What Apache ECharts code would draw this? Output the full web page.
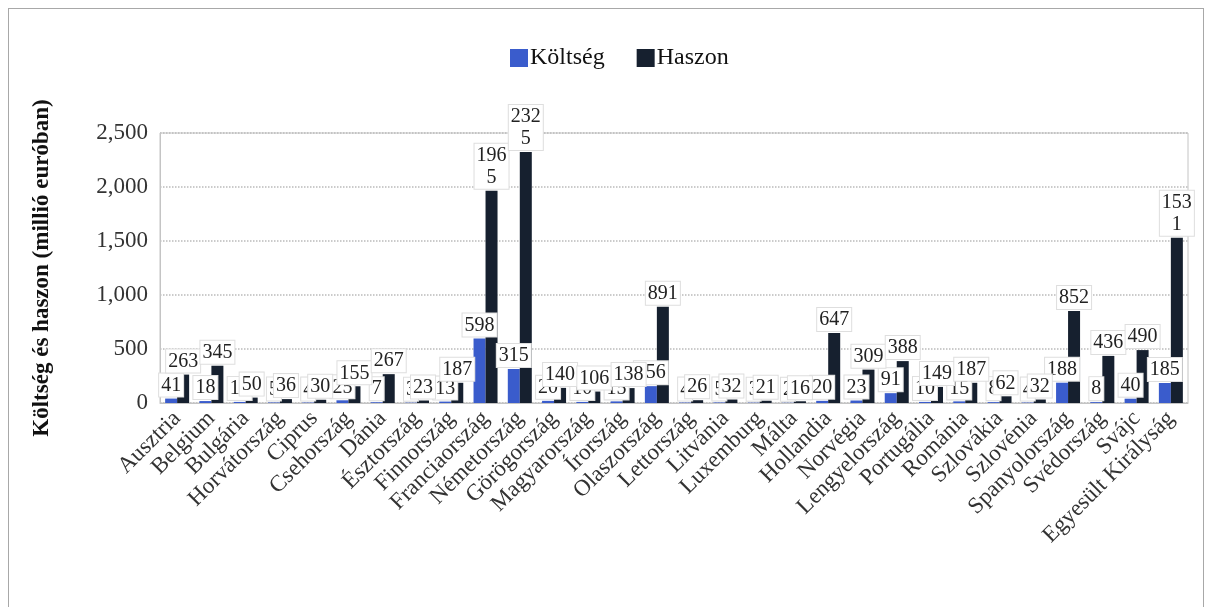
<!DOCTYPE html>
<html>
<head>
<meta charset="utf-8">
<script src="https://cdn.jsdelivr.net/npm/echarts@6/dist/echarts.min.js"></script>
<style>
html,body{margin:0;padding:0;background:#fff;}
#frame{position:absolute;left:8px;top:8px;width:1196px;height:640px;border:1px solid #a8a8a8;box-sizing:border-box;}
#chart{position:absolute;left:0;top:0;width:1213px;height:607px;}
</style>
</head>
<body>
<div id="frame"></div>
<div id="chart"></div>
<script>
const categories = ["Ausztria","Belgium","Bulgária","Horvátország","Ciprus","Csehország","Dánia","Észtország","Finnország","Franciaország","Németország","Görögország","Magyarország","Írország","Olaszország","Lettország","Litvánia","Luxemburg","Málta","Hollandia","Norvégia","Lengyelország","Portugália","Románia","Szlovákia","Szlovénia","Spanyolország","Svédország","Svájc","Egyesült Királyság"];
const koltseg = [41,18,10,5,4,25,7,3,13,598,315,20,10,15,156,4,5,3,2,20,23,91,10,15,8,4,188,8,40,185];
const haszon = [263,345,50,36,30,155,267,23,187,1965,2325,140,106,138,891,26,32,21,16,647,309,388,149,187,62,32,852,436,490,1531];
const yTicks = [0,500,1000,1500,2000,2500];

const serif = '"Liberation Serif","DejaVu Serif",serif';
function fmt(p){
  const s = String(p.value);
  return s.length > 3 ? s.slice(0,3) + '\n' + s.slice(3) : s;
}
const labelStyle = {
  show: true, position: 'top', formatter: fmt,
  fontFamily: serif, fontSize: 20, color: '#222', lineHeight: 22,
  distance: 2,
  backgroundColor: '#ffffff', borderColor: '#dedede', borderWidth: 1,
  padding: [1, 2, 0, 2]
};
const chart = echarts.init(document.getElementById('chart'));
chart.setOption({
  animation: false,
  legend: {
    top: 41, left: 505,
    itemWidth: 18, itemHeight: 18, itemGap: 32,
    icon: 'rect',
    textStyle: {fontFamily: serif, fontSize: 24, color: '#111', padding: [0,0,0,-3]},
    data: ['Költség','Haszon']
  },
  grid: {left: 160, right: 25, top: 133, bottom: 204, show: true, borderColor: '#c4c4c4', borderWidth: 1},
  xAxis: {
    type: 'category', data: categories,
    axisTick: {show: false},
    axisLine: {lineStyle: {color: '#c4c4c4'}},
    axisLabel: {rotate: 45, interval: 0, margin: 12, fontFamily: serif, fontSize: 23, color: '#333'}
  },
  yAxis: {
    type: 'value', min: 0, max: 2500, interval: 500,
    name: 'Költség és haszon (millió euróban)',
    nameLocation: 'middle', nameGap: 106,
    nameTextStyle: {fontFamily: serif, fontSize: 23, fontWeight: 'bold', color: '#111'},
    axisLine: {show: true, lineStyle: {color: '#c4c4c4'}},
    axisTick: {show: false},
    splitLine: {lineStyle: {type: 'dotted', color: '#bbbbbb', width: 1.5}},
    axisLabel: {margin: 12, fontFamily: serif, fontSize: 23, color: '#333',
      formatter: v => yTicks.includes(v) ? v.toLocaleString('en-US') : ''}
  },
  series: [
    {name: 'Költség', type: 'bar', data: koltseg, barWidth: 12, barGap: '0%',
     itemStyle: {color: '#3a5ccc'}, label: labelStyle},
    {name: 'Haszon', type: 'bar', data: haszon, barWidth: 12, barGap: '0%',
     itemStyle: {color: '#16202f'}, label: labelStyle}
  ]
});
</script>
</body>
</html>
